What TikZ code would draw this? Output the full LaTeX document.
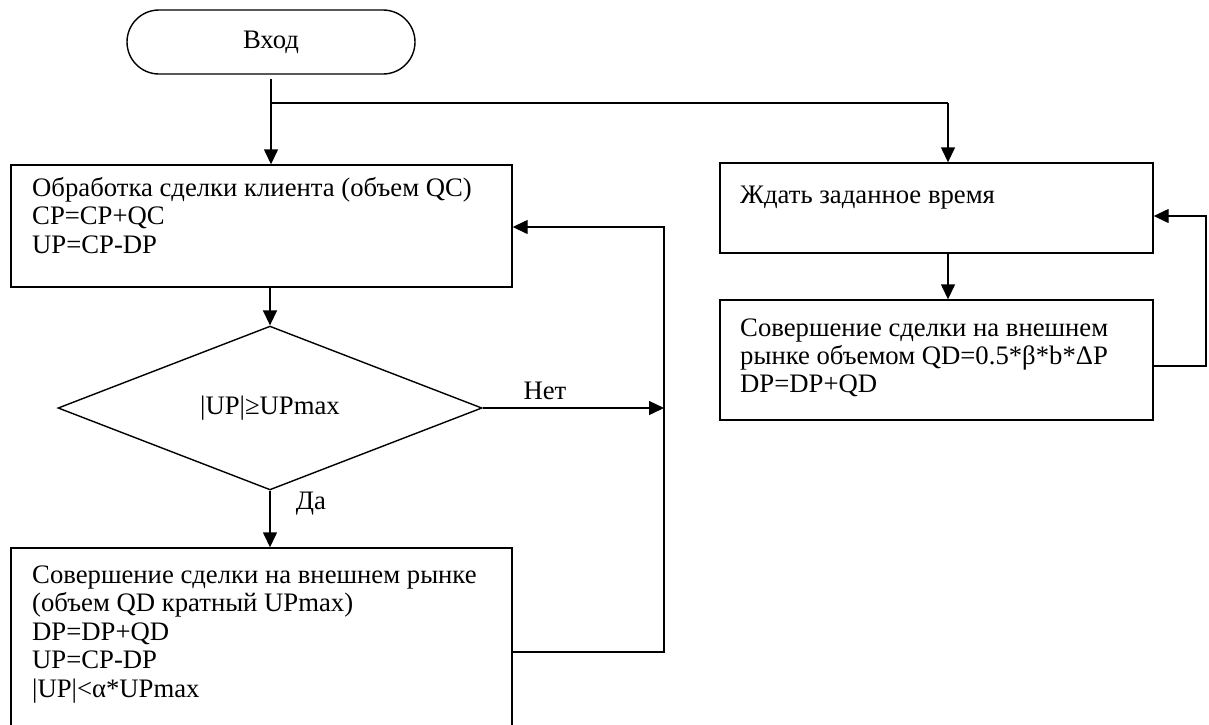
\documentclass[tikz,border=0pt]{standalone}
\usepackage{fontspec}
\setmainfont{Liberation Serif}
\usetikzlibrary{shapes.geometric,shapes.misc,arrows.meta}
\tikzset{
  ln/.style={line width=1.4pt},
  arr/.style={line width=1.4pt, -{Triangle[length=15pt,width=14pt]}},
  boxnode/.style={draw, line width=1.4pt, rectangle, inner sep=0pt},
  txt/.style={anchor=base west, inner sep=0pt, font=\fontsize{26.7}{28}\selectfont},
  lab/.style={inner sep=0pt, font=\fontsize{26.7}{28}\selectfont},
}
\begin{document}
\begin{tikzpicture}[x=1pt,y=-1pt]
\useasboundingbox (0,0) rectangle (1209,724);
% shapes
\node[draw, ln, rounded rectangle, minimum width=288pt, minimum height=64pt, inner sep=0pt,
      font=\fontsize{26.7}{28}\selectfont] (term) at (271,42) {Вход};
\node[boxnode, minimum width=501pt, minimum height=122pt] (box1) at (261.5,226) {};
\node[draw, ln, diamond, minimum width=424pt, minimum height=132pt, inner sep=0pt,
      font=\fontsize{26.7}{28}\selectfont] (dec) at (270,408) {|UP|≥UPmax};
\node[boxnode, minimum width=501pt, minimum height=204pt] (box3) at (261.5,650) {};
\node[boxnode, minimum width=433pt, minimum height=90pt] (box2) at (936.5,208) {};
\node[boxnode, minimum width=433pt, minimum height=120pt] (box4) at (936.5,360) {};
% texts
\foreach \t [count=\i] in {{Обработка сделки клиента (объем QC)},{CP=CP+QC},{UP=CP-DP}}
  \node[txt] (tA\i) at (32,{196+28.5*(\i-1)}) {\t};
\node[txt] (tB1) at (740,203) {Ждать заданное время};
\foreach \t [count=\i] in {{Совершение сделки на внешнем},{рынке объемом QD=0.5*β*b*ΔP},{DP=DP+QD}}
  \node[txt] (tC\i) at (740,{336+28*(\i-1)}) {\t};
\foreach \t [count=\i] in {{Совершение сделки на внешнем рынке},{(объем QD кратный UPmax)},{DP=DP+QD},{UP=CP-DP},{|UP|<α*UPmax}}
  \node[txt] (tD\i) at (32,{583+28.5*(\i-1)}) {\t};
\node[lab] (labNo) at (545,391) {Нет};
\node[lab] (labYes) at (311,504) {Да};
% helper coordinates
\coordinate (br) at (270,103);
\coordinate (colR) at (948,0);
\coordinate (ret) at (664,227);
\coordinate (ret3) at (664,652);
\coordinate (rr) at (1206,216);
\coordinate (rr2) at (1206,366);
% connectors
\draw[arr, shorten <=4pt] (term.south) -- (term.south |- box1.north);
\draw[ln] (br) -- (colR |- br);
\draw[arr] (colR |- br) -- (colR |- box2.north);
\draw[arr] (box1.south -| dec.north) -- (dec.north);
\draw[arr] (dec.south) -- (dec.south |- box3.north);
\draw[arr] (dec.east) -- (dec.east -| ret);
\draw[arr] (ret3 -| box3.east) -- (ret3) -- (ret) -- (ret -| box1.east);
\draw[arr] (colR |- box2.south) -- (colR |- box4.north);
\draw[arr] (rr2 -| box4.east) -- (rr2) -- (rr) -- (rr -| box2.east);
\end{tikzpicture}
\end{document}
